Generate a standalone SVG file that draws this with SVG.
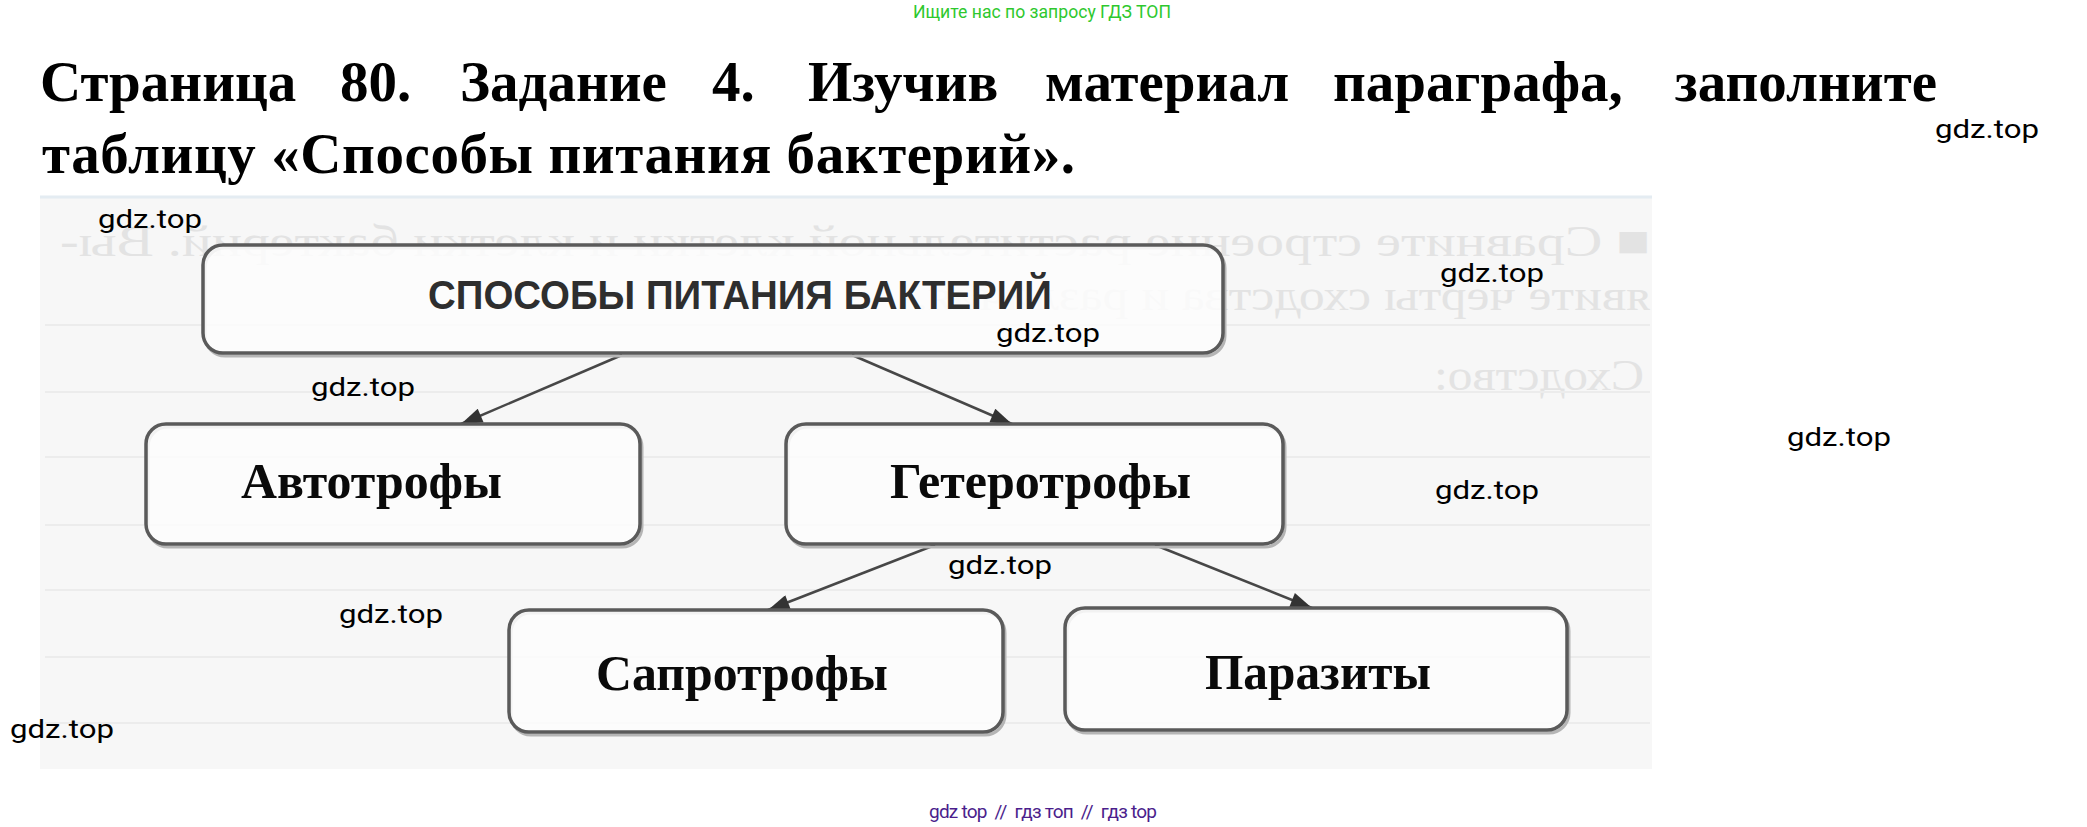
<svg xmlns="http://www.w3.org/2000/svg" width="2087" height="827" viewBox="0 0 2087 827">
<style>
.title{font-family:"Liberation Serif","Times New Roman",serif;font-weight:bold;font-size:57px;fill:#000}
.node{fill:#fdfdfd;fill-opacity:0.85;stroke:#5a5a5a;stroke-width:3.5}
.shadow{fill:none;stroke:#b5b5b5;stroke-width:3}
.lbl{font-family:"Liberation Serif","Times New Roman",serif;font-weight:bold;font-size:50px;fill:#0a0a0a}
.wm{font-family:Roboto,"Liberation Sans",sans-serif;font-size:26px;fill:#000}
.ghost{font-family:"Liberation Serif",serif;font-size:44px;fill:#e3e3e3}
.rule{stroke:#ececec;stroke-width:2}
.conn{stroke:#474747;stroke-width:2.5;fill:none}
</style>
<defs>
<marker id="ah" viewBox="0 0 10 7" refX="10" refY="3.5" markerWidth="26" markerHeight="15" markerUnits="userSpaceOnUse" orient="auto">
<path d="M0,0 L10,3.5 L0,7 z" fill="#333"/>
</marker>
</defs>
<rect width="2087" height="827" fill="#fff"/>
<text x="913" y="18" font-family="Roboto,'Liberation Sans',sans-serif" font-size="18" fill="#2ec82e" textLength="258" lengthAdjust="spacingAndGlyphs">Ищите нас по запросу ГДЗ ТОП</text>
<g id="title">
<text class="title" y="101"><tspan x="40">Страница</tspan><tspan x="340">80.</tspan><tspan x="460">Задание</tspan><tspan x="712">4.</tspan><tspan x="808">Изучив</tspan><tspan x="1045">материал</tspan><tspan x="1333">параграфа,</tspan></text>
<text class="title" x="1937" y="101" text-anchor="end">заполните</text>
<text class="title" x="42" y="173" textLength="1033" lengthAdjust="spacing">таблицу «Способы питания бактерий».</text>
</g>
<g id="page">
<rect x="40" y="197" width="1612" height="572" fill="#f7f7f7"/>
<line x1="40" y1="197" x2="1652" y2="197" stroke="#e4ecf2" stroke-width="3"/>
<g transform="translate(1650,0) scale(-1,1)">
<text class="ghost" x="0" y="256" textLength="1590" lengthAdjust="spacingAndGlyphs">■ Сравните строение растительной клетки и клетки бактерий. Вы-</text>
<text class="ghost" x="0" y="310" textLength="735" lengthAdjust="spacingAndGlyphs">явите черты сходства и различия.</text>
<text class="ghost" x="6" y="390" textLength="210" lengthAdjust="spacingAndGlyphs">Сходство:</text>
</g>
<line class="rule" x1="45" y1="325" x2="1650" y2="325"/>
<line class="rule" x1="45" y1="392" x2="1650" y2="392"/>
<line class="rule" x1="45" y1="457" x2="1650" y2="457"/>
<line class="rule" x1="45" y1="525" x2="1650" y2="525"/>
<line class="rule" x1="45" y1="590" x2="1650" y2="590"/>
<line class="rule" x1="45" y1="657" x2="1650" y2="657"/>
<line class="rule" x1="45" y1="723" x2="1650" y2="723"/>
</g>
<g id="connectors">
<line class="conn" x1="622" y1="355" x2="461" y2="424" marker-end="url(#ah)"/>
<line class="conn" x1="852" y1="355" x2="1012" y2="424" marker-end="url(#ah)"/>
<line class="conn" x1="935" y1="545" x2="768" y2="610" marker-end="url(#ah)"/>
<line class="conn" x1="1155" y1="545" x2="1312" y2="608" marker-end="url(#ah)"/>
</g>
<g id="n-root">
<rect class="shadow" x="205" y="248" width="1020" height="108" rx="20"/>
<rect class="node" x="203" y="245" width="1020" height="108" rx="20"/>
<text x="428" y="309" font-family="'Liberation Sans',Arial,sans-serif" font-weight="bold" font-size="40" fill="#2e2e2e" textLength="624" lengthAdjust="spacingAndGlyphs">СПОСОБЫ ПИТАНИЯ БАКТЕРИЙ</text>
</g>
<g id="n-auto">
<rect class="shadow" x="148" y="427" width="494" height="120" rx="20"/>
<rect class="node" x="146" y="424" width="494" height="120" rx="20"/>
<text class="lbl" x="241" y="498" textLength="261" lengthAdjust="spacingAndGlyphs">Автотрофы</text>
</g>
<g id="n-hetero">
<rect class="shadow" x="788" y="427" width="497" height="120" rx="20"/>
<rect class="node" x="786" y="424" width="497" height="120" rx="20"/>
<text class="lbl" x="890" y="498" textLength="301" lengthAdjust="spacingAndGlyphs">Гетеротрофы</text>
</g>
<g id="n-sapro">
<rect class="shadow" x="511" y="613" width="494" height="122" rx="20"/>
<rect class="node" x="509" y="610" width="494" height="122" rx="20"/>
<text class="lbl" x="596" y="690" textLength="292" lengthAdjust="spacingAndGlyphs">Сапротрофы</text>
</g>
<g id="n-para">
<rect class="shadow" x="1067" y="611" width="502" height="122" rx="20"/>
<rect class="node" x="1065" y="608" width="502" height="122" rx="20"/>
<text class="lbl" x="1205" y="689" textLength="226" lengthAdjust="spacingAndGlyphs">Паразиты</text>
</g>
<g id="watermarks">
<text class="wm" x="1935" y="138" textLength="104" lengthAdjust="spacingAndGlyphs">gdz.top</text>
<text class="wm" x="98" y="228" textLength="104" lengthAdjust="spacingAndGlyphs">gdz.top</text>
<text class="wm" x="1440" y="282" textLength="104" lengthAdjust="spacingAndGlyphs">gdz.top</text>
<text class="wm" x="996" y="342" textLength="104" lengthAdjust="spacingAndGlyphs">gdz.top</text>
<text class="wm" x="311" y="396" textLength="104" lengthAdjust="spacingAndGlyphs">gdz.top</text>
<text class="wm" x="1787" y="446" textLength="104" lengthAdjust="spacingAndGlyphs">gdz.top</text>
<text class="wm" x="1435" y="499" textLength="104" lengthAdjust="spacingAndGlyphs">gdz.top</text>
<text class="wm" x="948" y="574" textLength="104" lengthAdjust="spacingAndGlyphs">gdz.top</text>
<text class="wm" x="339" y="623" textLength="104" lengthAdjust="spacingAndGlyphs">gdz.top</text>
<text class="wm" x="10" y="738" textLength="104" lengthAdjust="spacingAndGlyphs">gdz.top</text>
</g>
<text x="929" y="818" xml:space="preserve" font-family="Roboto,'Liberation Sans',sans-serif" font-size="19" fill="#4b1e8c" textLength="228" lengthAdjust="spacing">gdz top  //  гдз топ  //  гдз top</text>
</svg>
